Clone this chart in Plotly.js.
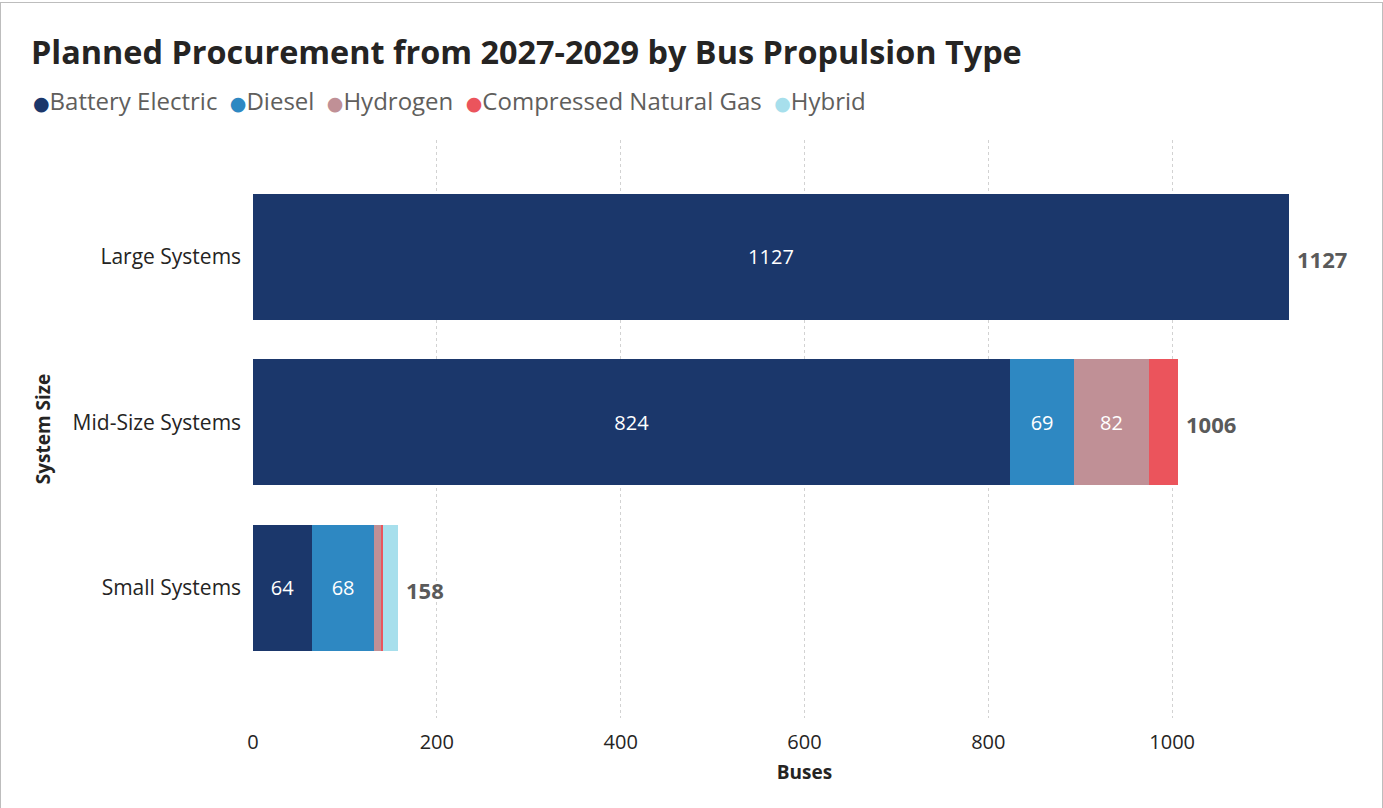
<!DOCTYPE html>
<html><head><meta charset="utf-8">
<script src="https://cdn.plot.ly/plotly-3.0.1.min.js"></script>
<style>
html,body{margin:0;padding:0;background:#fff;}
#frame{position:absolute;left:0;top:2px;width:1383px;height:806px;box-sizing:border-box;border:1px solid #bdbdbd;border-bottom:none;}
#chart{position:absolute;left:0;top:0;width:1383px;height:808px;}
</style></head>
<body>
<div id="chart"></div>
<div id="frame" style="pointer-events:none"></div>
<script>
const categories = ['Large Systems', 'Mid-Size Systems', 'Small Systems'];
const seriesNames = ['Battery Electric', 'Diesel', 'Hydrogen', 'Compressed Natural Gas', 'Hybrid'];
const batteryElectric = [1127, 824, 64];
const diesel = [0, 69, 68];
const hydrogen = [0, 82, 7];
const cng = [0, 31, 2];
const hybrid = [0, 0, 17];
const totals = [1127, 1006, 158];
const colors = ['#1B376B', '#2E88C2', '#C09096', '#EB545C', '#A7DFEC'];

const seriesValues = [batteryElectric, diesel, hydrogen, cng, hybrid];
const FONT = '"Open Sans", "Segoe UI", sans-serif';
const LABEL_MIN = 40; // segments narrower than this carry no label

const traces = seriesValues.map((vals, i) => ({
  type: 'bar', orientation: 'h', name: seriesNames[i],
  y: categories, x: vals.map(v => v === 0 ? null : v),
  marker: {color: colors[i], line: {width: 0}},
  text: vals.map(v => v >= LABEL_MIN ? String(v) : ''),
  textposition: 'inside', insidetextanchor: 'middle',
  textfont: {color: '#ffffff', size: 20, family: FONT},
  hoverinfo: 'x+name', showlegend: false
}));

const annotations = categories.map((c, i) => ({
  x: totals[i], y: c, xref: 'x', yref: 'y', text: '<b>' + totals[i] + '</b>',
  showarrow: false, xanchor: 'left', xshift: 6, yshift: -2,
  font: {size: 22, color: '#5A5A5A', family: FONT}
}));
// custom legend: coloured dots followed by names
annotations.push({
  xref: 'paper', yref: 'paper', x: -222/1103, y: 1 + 40/578, xanchor: 'left', yanchor: 'middle',
  showarrow: false, align: 'left',
  text: seriesNames.map((n, i) => '<span style="color:' + colors[i] + '; font-family:DejaVu Sans; font-size:19px">●</span>' + n).join('&nbsp; '),
  font: {size: 24, color: '#605E5C', family: FONT}
});

const layout = {
  width: 1383, height: 808,
  margin: {l: 253, r: 27, t: 140, b: 90},
  paper_bgcolor: '#ffffff', plot_bgcolor: '#ffffff',
  barmode: 'stack', bargap: 0.24,
  font: {family: FONT, color: '#252423'},
  title: {text: '<b>Planned Procurement from 2027-2029 by Bus Propulsion Type</b>',
    xref: 'container', yref: 'container', x: 31/1383, xanchor: 'left', y: 1 - 53/808, yanchor: 'middle',
    font: {size: 32.4, color: '#252423', family: FONT}},
  showlegend: false,
  xaxis: {range: [0, 1200], tickvals: [0, 200, 400, 600, 800, 1000],
    showgrid: true, gridcolor: '#D2D2D2', griddash: 'dot', gridwidth: 1, zeroline: false,
    showline: false, ticks: '', tickfont: {size: 20, color: '#252423'}, ticklabelstandoff: 10,
    title: {text: '<b>Buses</b>', font: {size: 19, color: '#252423'}, standoff: 11}},
  yaxis: {type: 'category', categoryorder: 'array', categoryarray: categories,
    range: [2.785, -0.705], showgrid: false, zeroline: false, showline: false, ticks: '',
    ticksuffix: '  ', tickfont: {size: 21, color: '#252423'},
    title: {text: '<b>System Size</b>', font: {size: 19, color: '#252423'}, standoff: 16}},
  annotations: annotations
};
Plotly.newPlot('chart', traces, layout, {displayModeBar: false, staticPlot: true});
</script>
</body></html>
